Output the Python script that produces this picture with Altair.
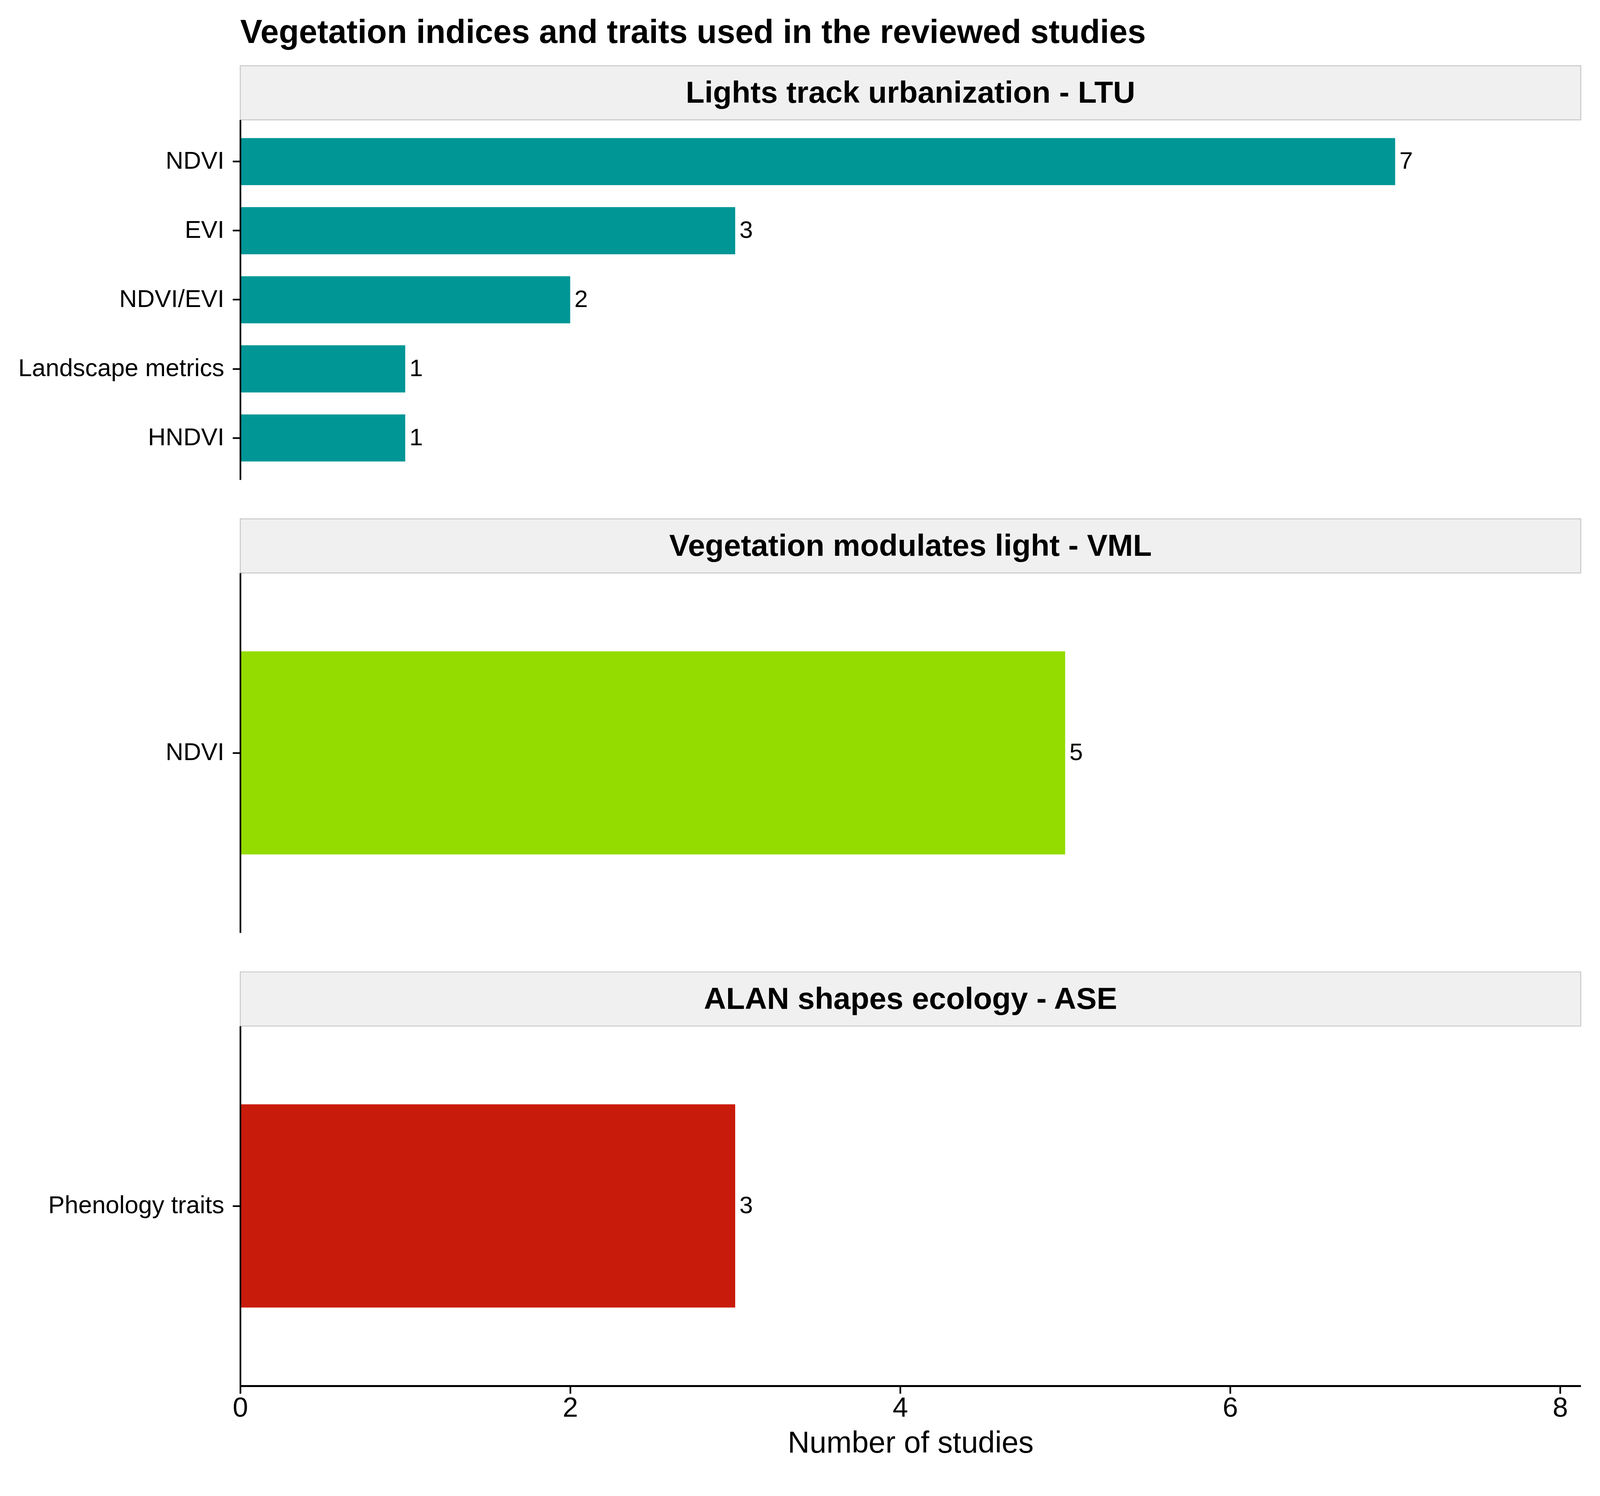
import altair as alt
import pandas as pd

# ---- data ----
panel_titles = [
    "Lights track urbanization - LTU",
    "Vegetation modulates light - VML",
    "ALAN shapes ecology - ASE",
]
ltu_items = ["NDVI", "EVI", "NDVI/EVI", "Landscape metrics", "HNDVI"]
ltu_counts = [7, 3, 2, 1, 1]
vml_items = ["NDVI"]
vml_counts = [5]
ase_items = ["Phenology traits"]
ase_counts = [3]
panel_colors = ["#009696", "#94DC00", "#C81B0B"]
x_ticks = [0, 2, 4, 6, 8]
main_title = "Vegetation indices and traits used in the reviewed studies"
x_title = "Number of studies"

FONT = "Liberation Sans"
W = 3494
STRIP = 141
PLOT = 938
XMAX = 8.125


def panel(title, items, counts, color, bottom, top_title=None):
    df = pd.DataFrame({"item": items, "n": counts})
    xscale = alt.Scale(domain=[0, XMAX], nice=False, zero=True)
    yscale = alt.Scale(
        domain=items,
        range=[STRIP, STRIP + PLOT],
        paddingInner=0.318,
        paddingOuter=0.263,
    )
    if bottom:
        xaxis = alt.Axis(
            values=x_ticks,
            format="d",
            labelFlush=False,
            title=x_title,
            grid=False,
            domainColor="black",
            domainWidth=5,
            tickColor="black",
            tickWidth=4.3,
            tickSize=20,
            labelFontSize=72,
            labelFont=FONT,
            labelColor="black",
            labelPadding=3,
            titleFontSize=79,
            titleFont=FONT,
            titleFontWeight="normal",
            titleColor="black",
            titlePadding=18,
            zindex=1,
        )
    else:
        xaxis = None
    yaxis = alt.Axis(
        title=None,
        grid=False,
        domainColor="black",
        domainWidth=4.3,
        tickColor="black",
        tickWidth=4.3,
        tickSize=20,
        labelFontSize=64,
        labelFont=FONT,
        labelColor="black",
        labelPadding=22,
        labelLimit=2000,
        zindex=1,
    )
    bars = alt.Chart(df).mark_bar(color=color).encode(
        x=alt.X("n:Q", scale=xscale, axis=xaxis),
        y=alt.Y("item:N", scale=yscale, sort=items, axis=yaxis),
    )
    labels = alt.Chart(df).mark_text(
        align="left", baseline="middle", dx=11, fontSize=63, font=FONT, color="black"
    ).encode(
        x=alt.X("n:Q"),
        y=alt.Y("item:N", sort=items),
        text=alt.Text("n:Q"),
    )
    tdf = pd.DataFrame({"t": [title]})
    strip = alt.Chart(tdf).mark_rect(
        fill="#f0f0f0", stroke="#c2c2c2", strokeWidth=2.2
    ).encode(
        x=alt.value(0), x2=alt.value(W), y=alt.value(0), y2=alt.value(STRIP)
    )
    strip_text = alt.Chart(tdf).mark_text(
        fontSize=80, fontWeight="bold", font=FONT, color="black",
        align="center", baseline="middle"
    ).encode(
        x=alt.value(W / 2), y=alt.value(STRIP / 2 + 2), text="t:N"
    )
    props = dict(width=W, height=STRIP + PLOT)
    if top_title:
        props["title"] = alt.TitleParams(
            text=top_title, anchor="start", frame="group", font=FONT,
            fontSize=86, fontWeight="bold", color="black", offset=40,
        )
    return alt.layer(strip, strip_text, bars, labels).properties(**props)


p1 = panel(panel_titles[0], ltu_items, ltu_counts, panel_colors[0], False, main_title)
p2 = panel(panel_titles[1], vml_items, vml_counts, panel_colors[1], False)
p3 = panel(panel_titles[2], ase_items, ase_counts, panel_colors[2], True)

chart = alt.vconcat(p1, p2, p3, spacing=100).properties(
    padding={"left": 38, "top": 0, "right": 40, "bottom": 20},
    background="white",
).configure_view(stroke=None)

chart.save("out.html", embed_options={"renderer": "svg", "actions": False})
